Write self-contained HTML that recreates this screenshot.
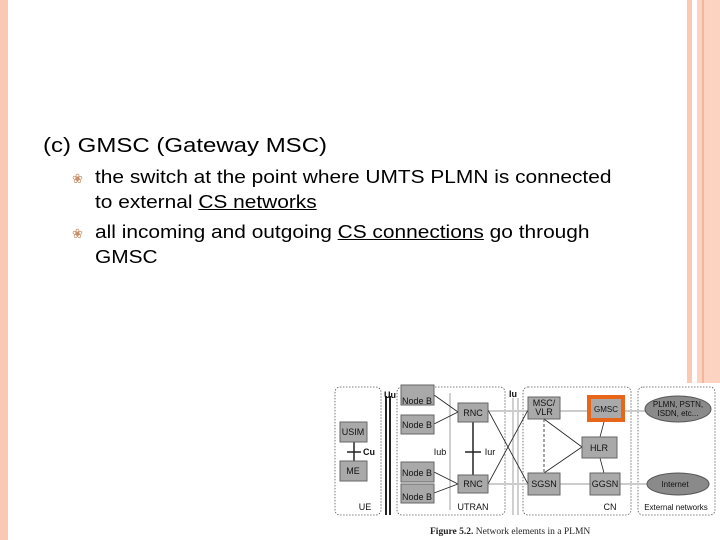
<!DOCTYPE html>
<html><head><style>
body{margin:0;width:720px;height:540px;position:relative;background:#fff;overflow:hidden;font-family:"Liberation Sans",sans-serif;}
.t{position:absolute;color:#000;white-space:nowrap;transform-origin:0 0;}
.s{transform:scaleX(1.16);}
u{text-decoration:underline;}
.b{position:absolute;color:#c8906a;font-size:13px;}
</style></head><body>
<div style="position:absolute;left:0;top:0;width:8px;height:540px;background:#f9c9b4"></div>
<div style="position:absolute;left:687px;top:0;width:5px;height:383px;background:#f9c9b4"></div>
<div style="position:absolute;left:697px;top:0;width:23px;height:383px;background:#fbd3c0"></div>
<div style="position:absolute;left:702px;top:0;width:2px;height:383px;background:#f3b698"></div>
<div class="t" style="left:43px;top:135px;font-size:20px;transform:scaleX(1.2)">(c) GMSC (Gateway MSC)</div>
<div class="b" style="left:72px;top:171px">&#x2740;</div>
<div class="t s" style="left:95px;top:167px;font-size:18px">the switch at the point where UMTS PLMN is connected</div>
<div class="t s" style="left:95px;top:192px;font-size:18px">to external <u>CS networks</u></div>
<div class="b" style="left:72px;top:226px">&#x2740;</div>
<div class="t s" style="left:95px;top:222px;font-size:18px">all incoming and outgoing <u>CS connections</u> go through</div>
<div class="t s" style="left:95px;top:247px;font-size:18px">GMSC</div>
<svg style="position:absolute;left:0;top:0" width="720" height="540" font-family="Liberation Sans, sans-serif" font-size="9">
<rect x="333" y="383" width="387" height="157" fill="#fff"/>
<g fill="none" stroke="#555" stroke-dasharray="1.5,1.5" stroke-width="0.8">
<rect x="335" y="387" width="46" height="128" rx="5"/>
<rect x="397" y="387" width="108" height="128" rx="5"/>
<rect x="523" y="387" width="108" height="128" rx="5"/>
<rect x="638" y="387" width="77" height="128" rx="5"/>
</g>
<g stroke="#222" stroke-width="2"><line x1="386" y1="396" x2="386" y2="515"/><line x1="390" y1="396" x2="390" y2="515"/></g>
<g stroke="#888" stroke-width="0.8"><line x1="450" y1="393" x2="450" y2="510"/><line x1="513" y1="398" x2="513" y2="515"/><line x1="518" y1="398" x2="518" y2="515"/></g>
<g stroke="#ccc" stroke-width="2"><line x1="488" y1="411" x2="645" y2="411"/><line x1="488" y1="484" x2="647" y2="484"/></g>
<g stroke="#222" stroke-width="0.8">
<line x1="434" y1="395" x2="458" y2="412"/><line x1="434" y1="424" x2="458" y2="412"/>
<line x1="434" y1="472" x2="458" y2="484"/><line x1="434" y1="493" x2="458" y2="484"/>
<line x1="488" y1="410" x2="528" y2="484"/><line x1="488" y1="484" x2="528" y2="410"/>
<line x1="544" y1="419" x2="582" y2="447"/><line x1="544" y1="473" x2="582" y2="447"/>
<line x1="544" y1="419" x2="544" y2="473" stroke-dasharray="3,2"/>
<line x1="604" y1="422" x2="600" y2="437"/><line x1="600" y1="458" x2="604" y2="473"/>
</g>
<g stroke="#222" stroke-width="1.5"><line x1="354" y1="442" x2="354" y2="461"/><line x1="347" y1="452" x2="361" y2="452"/>
<line x1="473" y1="422" x2="473" y2="475"/><line x1="465" y1="452" x2="481" y2="452"/></g>
<g fill="#a9a9a9" stroke="#666" stroke-width="1">
<rect x="340" y="422" width="27" height="20"/><rect x="340" y="461" width="27" height="20"/>
<rect x="401" y="385" width="33" height="20"/><rect x="401" y="415" width="33" height="19"/>
<rect x="401" y="462" width="33" height="20"/><rect x="401" y="484" width="33" height="19"/>
<rect x="458" y="403" width="30" height="19"/><rect x="458" y="475" width="30" height="18"/>
<rect x="528" y="397" width="32" height="22"/><rect x="582" y="437" width="35" height="21"/>
<rect x="528" y="473" width="32" height="22"/><rect x="590" y="473" width="30" height="22"/>
</g>
<rect x="589" y="397" width="34" height="23" fill="#a9a9a9" stroke="#e8661a" stroke-width="4"/>
<ellipse cx="678" cy="409" rx="33" ry="13" fill="#8a8a8a" stroke="#555"/>
<ellipse cx="678" cy="484" rx="31" ry="11" fill="#8a8a8a" stroke="#555"/>
<g fill="#111" text-anchor="middle">
<text x="353" y="435">USIM</text><text x="353" y="474">ME</text>
<text x="417" y="404">Node B</text><text x="417" y="428">Node B</text>
<text x="417" y="476">Node B</text><text x="417" y="500">Node B</text>
<text x="473" y="416">RNC</text><text x="473" y="487">RNC</text>
<text x="544" y="406">MSC/</text><text x="544" y="415">VLR</text>
<text x="606" y="412" font-size="8">GMSC</text><text x="599" y="451">HLR</text>
<text x="544" y="487">SGSN</text><text x="605" y="487">GGSN</text>
<text x="678" y="407" font-size="8">PLMN, PSTN,</text><text x="678" y="416" font-size="8">ISDN, etc...</text>
<text x="675" y="487" font-size="8">Internet</text>
<text x="365" y="510">UE</text><text x="473" y="510">UTRAN</text><text x="610" y="510">CN</text>
<text x="676" y="510" font-size="8">External networks</text>
<text x="390" y="398" font-weight="bold">Uu</text><text x="513" y="397" font-weight="bold">Iu</text>
<text x="369" y="455" font-weight="bold">Cu</text><text x="440" y="455">Iub</text><text x="490" y="455">Iur</text>
</g>
<text x="430" y="534" font-family="Liberation Serif, serif" font-size="9.5" fill="#222"><tspan font-weight="bold">Figure 5.2.</tspan> Network elements in a PLMN</text>
</svg>
</body></html>
